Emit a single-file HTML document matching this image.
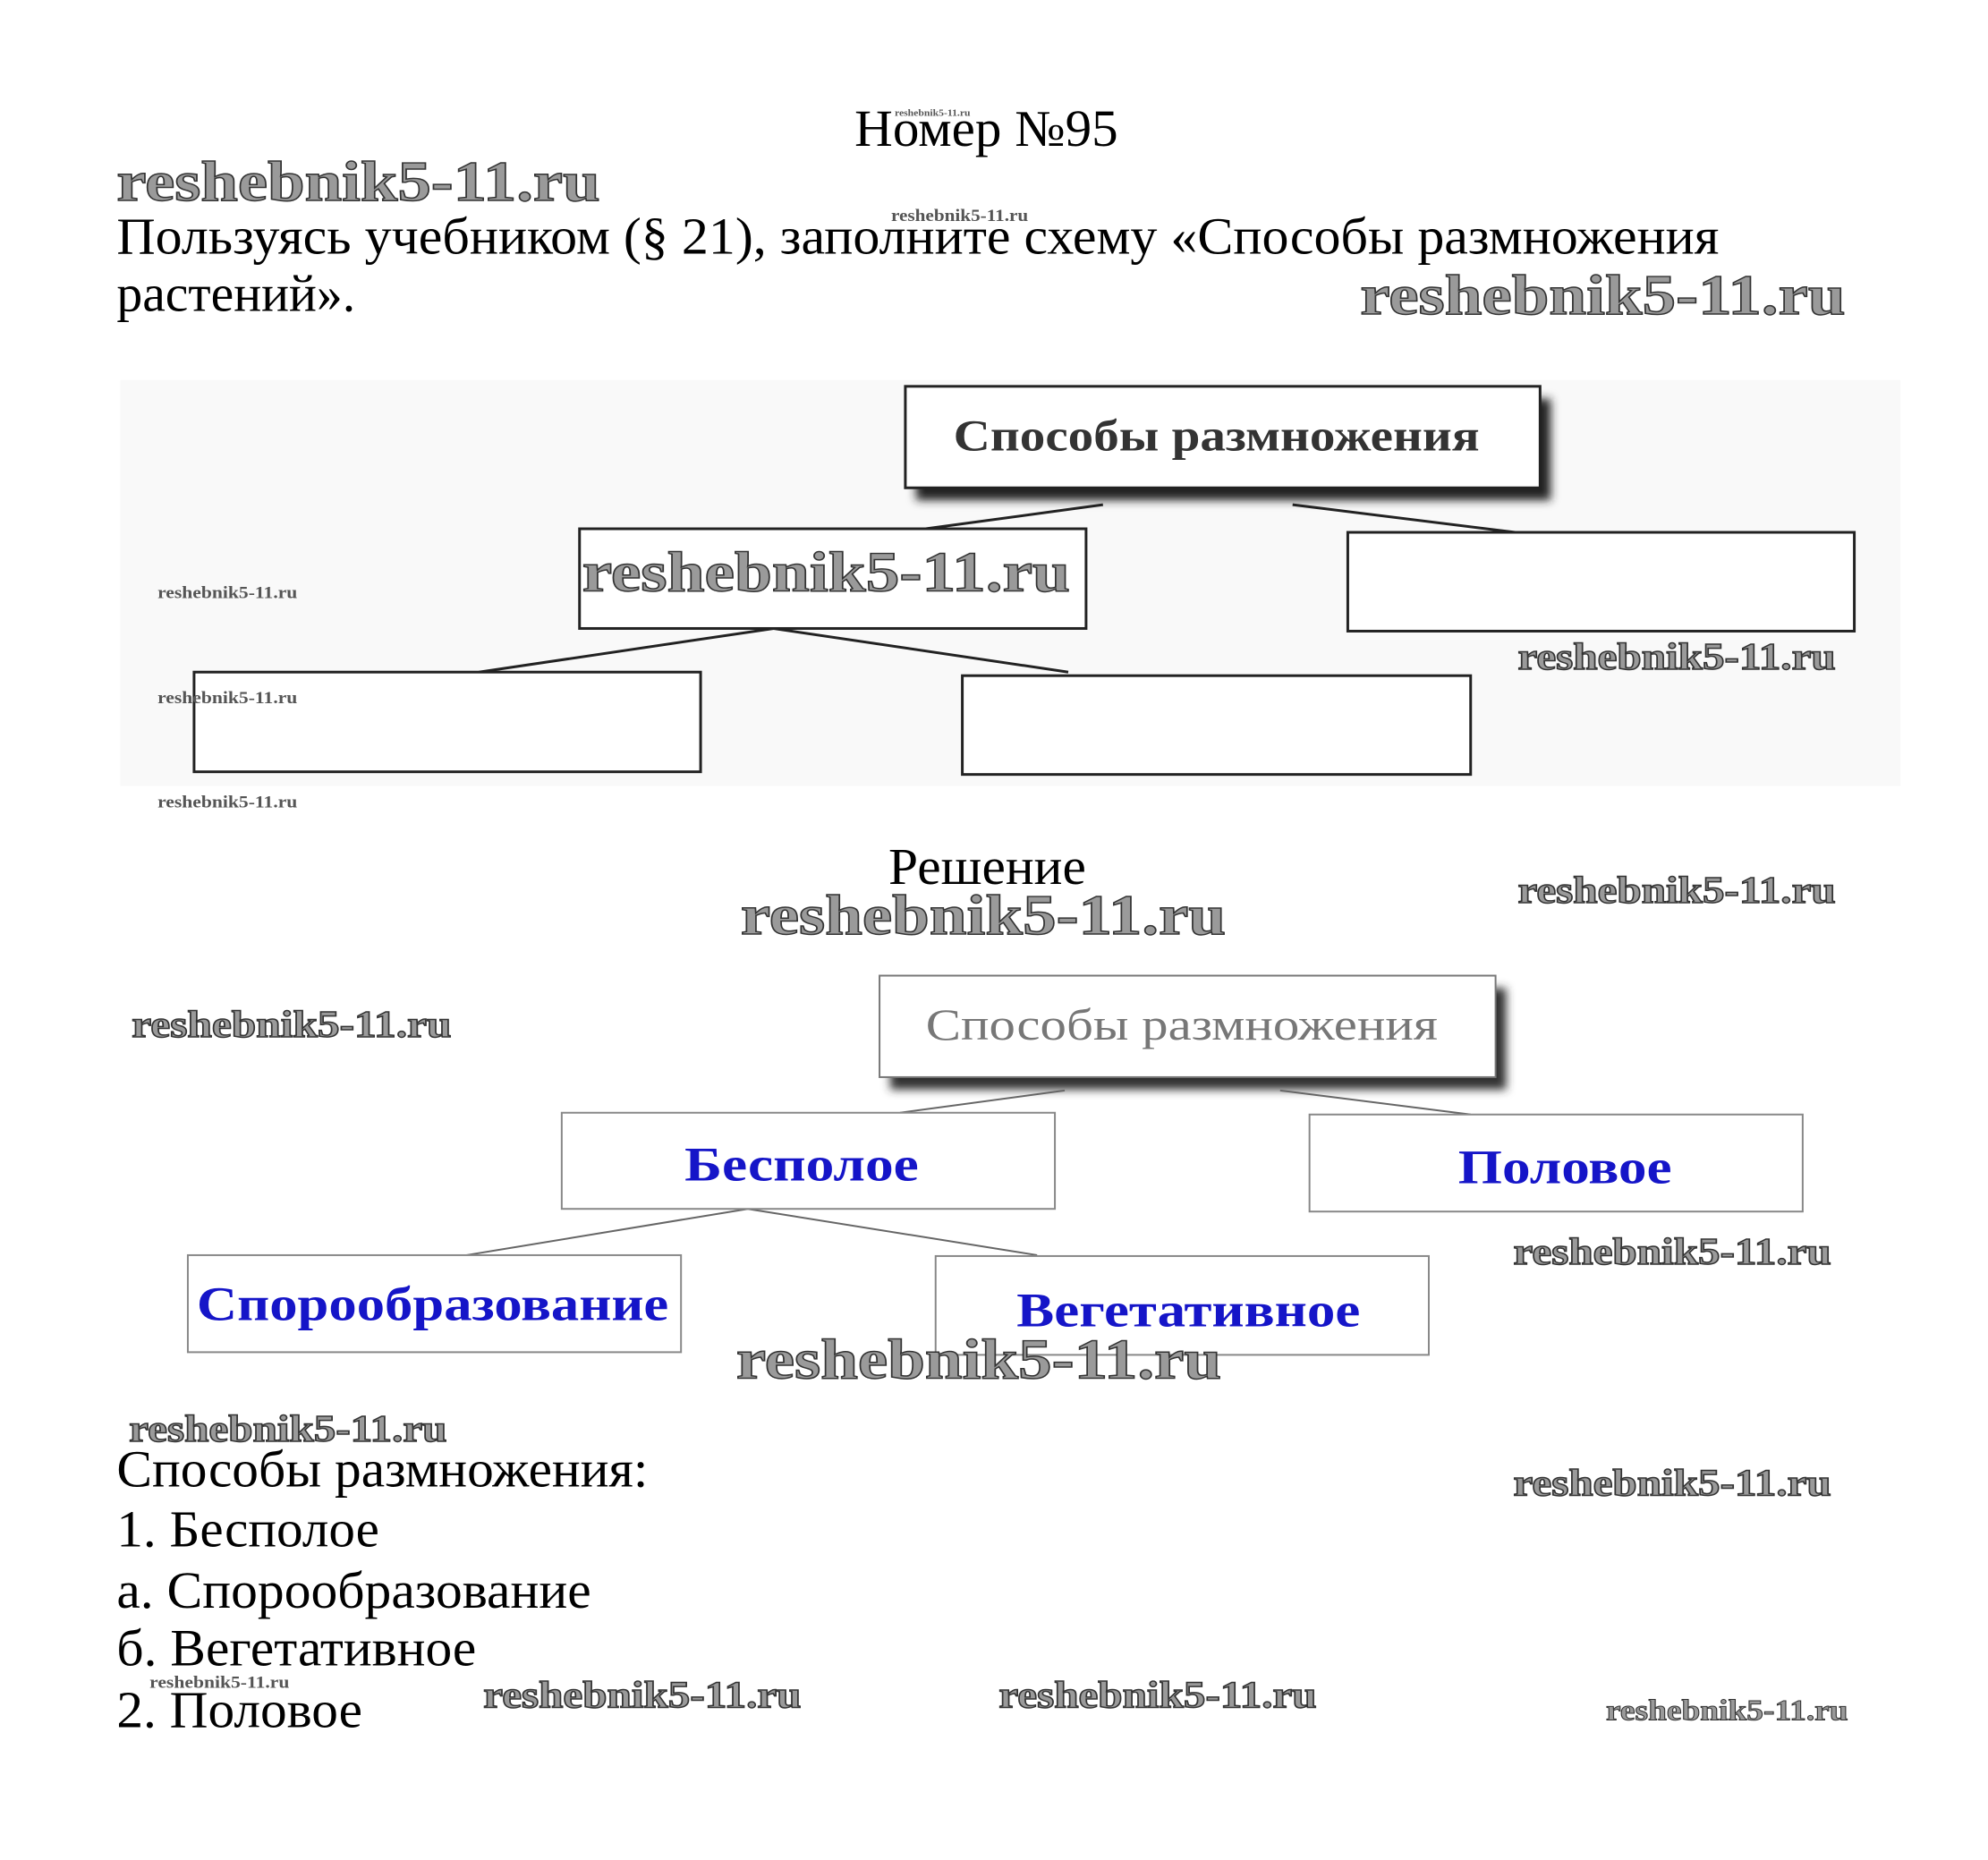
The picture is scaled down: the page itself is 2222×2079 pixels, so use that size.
<!DOCTYPE html>
<html><head><meta charset="utf-8"><style>html,body{margin:0;padding:0;background:#fff}svg{display:block}</style></head>
<body>
<svg width="2222" height="2079" viewBox="0 0 2222 2079" xmlns="http://www.w3.org/2000/svg" font-family="'Liberation Serif', serif">
<defs>
<filter id="bl" x="-20%" y="-20%" width="140%" height="140%"><feGaussianBlur stdDeviation="5"/></filter>
</defs>
<rect width="2222" height="2079" fill="#fff"/>
<g transform="scale(0.995)">
<g fill="#000">
<text x="960" y="164" font-size="58" textLength="296" lengthAdjust="spacingAndGlyphs">Номер №95</text>
<text x="131" y="285" font-size="58" textLength="1800" lengthAdjust="spacingAndGlyphs">Пользуясь учебником (§ 21), заполните схему «Способы размножения</text>
<text x="131" y="349" font-size="58">растений».</text>
<text x="998" y="993" font-size="58" textLength="222" lengthAdjust="spacingAndGlyphs">Решение</text>
<text x="131" y="1670" font-size="58" textLength="597" lengthAdjust="spacingAndGlyphs">Способы размножения:</text>
<text x="131" y="1737" font-size="58" textLength="295" lengthAdjust="spacingAndGlyphs">1. Бесполое</text>
<text x="131" y="1806" font-size="58" textLength="533" lengthAdjust="spacingAndGlyphs">а. Спорообразование</text>
<text x="131" y="1871" font-size="58" textLength="404" lengthAdjust="spacingAndGlyphs">б. Вегетативное</text>
<text x="131" y="1940" font-size="58" textLength="276" lengthAdjust="spacingAndGlyphs">2. Половое</text>
</g>
<rect x="135" y="427" width="2000" height="456" fill="#f9f9f9"/>
<rect x="1029" y="448" width="713" height="114" fill="#222" filter="url(#bl)"/>
<rect x="1017" y="434" width="713" height="114" fill="#fff" stroke="#222" stroke-width="3"/>
<text x="1071" y="506" font-size="50" font-weight="bold" fill="#333" textLength="591" lengthAdjust="spacingAndGlyphs">Способы размножения</text>
<g stroke="#222" stroke-width="3">
<line x1="1239" y1="567" x2="1040" y2="594"/><line x1="1452" y1="567" x2="1702" y2="598"/>
<line x1="869" y1="706" x2="538" y2="755"/><line x1="869" y1="706" x2="1200" y2="755"/>
</g>
<g fill="#fff" stroke="#222" stroke-width="3">
<rect x="651" y="594" width="569" height="112"/>
<rect x="1514" y="598" width="569" height="111"/>
<rect x="218" y="755" width="569" height="112"/>
<rect x="1081" y="759" width="571" height="111"/>
</g>
<rect x="1000" y="1110" width="692" height="114" fill="#333" filter="url(#bl)"/>
<rect x="988" y="1096" width="692" height="114" fill="#fff" stroke="#777" stroke-width="2"/>
<text x="1040" y="1168" font-size="50" fill="#777" textLength="575" lengthAdjust="spacingAndGlyphs">Способы размножения</text>
<g stroke="#666" stroke-width="2">
<line x1="1196" y1="1225" x2="1011" y2="1250"/><line x1="1438" y1="1225" x2="1652" y2="1252"/>
<line x1="840" y1="1358" x2="524" y2="1410"/><line x1="840" y1="1358" x2="1165" y2="1410"/>
</g>
<g fill="#fff" stroke="#888" stroke-width="2">
<rect x="631" y="1250" width="554" height="108"/>
<rect x="1471" y="1252" width="554" height="109"/>
<rect x="211" y="1410" width="554" height="109"/>
<rect x="1051" y="1411" width="554" height="111"/>
</g>
<g fill="#1515c8" font-weight="bold" font-size="54">
<text x="769" y="1326" textLength="263" lengthAdjust="spacingAndGlyphs">Бесполое</text>
<text x="1638" y="1329" textLength="240" lengthAdjust="spacingAndGlyphs">Половое</text>
<text x="221" y="1483" textLength="530" lengthAdjust="spacingAndGlyphs">Спорообразование</text>
<text x="1142" y="1490" textLength="386" lengthAdjust="spacingAndGlyphs">Вегетативное</text>
</g>
<g fill="#9a9a9a" stroke="#333" stroke-width="1.5" font-weight="bold">
<text x="131" y="225" font-size="64" textLength="543" lengthAdjust="spacingAndGlyphs">reshebnik5-11.ru</text>
<text x="1528" y="353" font-size="64" textLength="545" lengthAdjust="spacingAndGlyphs">reshebnik5-11.ru</text>
<text x="654" y="664" font-size="64" textLength="548" lengthAdjust="spacingAndGlyphs">reshebnik5-11.ru</text>
<text x="832" y="1049" font-size="64" textLength="545" lengthAdjust="spacingAndGlyphs">reshebnik5-11.ru</text>
<text x="827" y="1548" font-size="64" textLength="545" lengthAdjust="spacingAndGlyphs">reshebnik5-11.ru</text>
<text x="1705" y="752" font-size="42" textLength="357" lengthAdjust="spacingAndGlyphs">reshebnik5-11.ru</text>
<text x="1705" y="1014" font-size="42" textLength="357" lengthAdjust="spacingAndGlyphs">reshebnik5-11.ru</text>
<text x="148" y="1165" font-size="42" textLength="359" lengthAdjust="spacingAndGlyphs">reshebnik5-11.ru</text>
<text x="1700" y="1420" font-size="42" textLength="357" lengthAdjust="spacingAndGlyphs">reshebnik5-11.ru</text>
<text x="145" y="1619" font-size="42" textLength="357" lengthAdjust="spacingAndGlyphs">reshebnik5-11.ru</text>
<text x="1700" y="1680" font-size="42" textLength="357" lengthAdjust="spacingAndGlyphs">reshebnik5-11.ru</text>
<text x="543" y="1918" font-size="42" textLength="357" lengthAdjust="spacingAndGlyphs">reshebnik5-11.ru</text>
<text x="1122" y="1918" font-size="42" textLength="357" lengthAdjust="spacingAndGlyphs">reshebnik5-11.ru</text>
<text x="1804" y="1932" font-size="33" stroke-width="1" textLength="272" lengthAdjust="spacingAndGlyphs">reshebnik5-11.ru</text>
</g>
<g fill="#555" font-weight="bold" font-size="19">
<text x="177" y="672" textLength="157" lengthAdjust="spacingAndGlyphs">reshebnik5-11.ru</text>
<text x="177" y="790" textLength="157" lengthAdjust="spacingAndGlyphs">reshebnik5-11.ru</text>
<text x="177" y="907" textLength="157" lengthAdjust="spacingAndGlyphs">reshebnik5-11.ru</text>
<text x="1001" y="248" textLength="154" lengthAdjust="spacingAndGlyphs">reshebnik5-11.ru</text>
<text x="168" y="1896" textLength="157" lengthAdjust="spacingAndGlyphs">reshebnik5-11.ru</text>
<text x="1005" y="130" font-size="11" textLength="85" lengthAdjust="spacingAndGlyphs">reshebnik5-11.ru</text>
</g>
</g>
</svg>
</body></html>
